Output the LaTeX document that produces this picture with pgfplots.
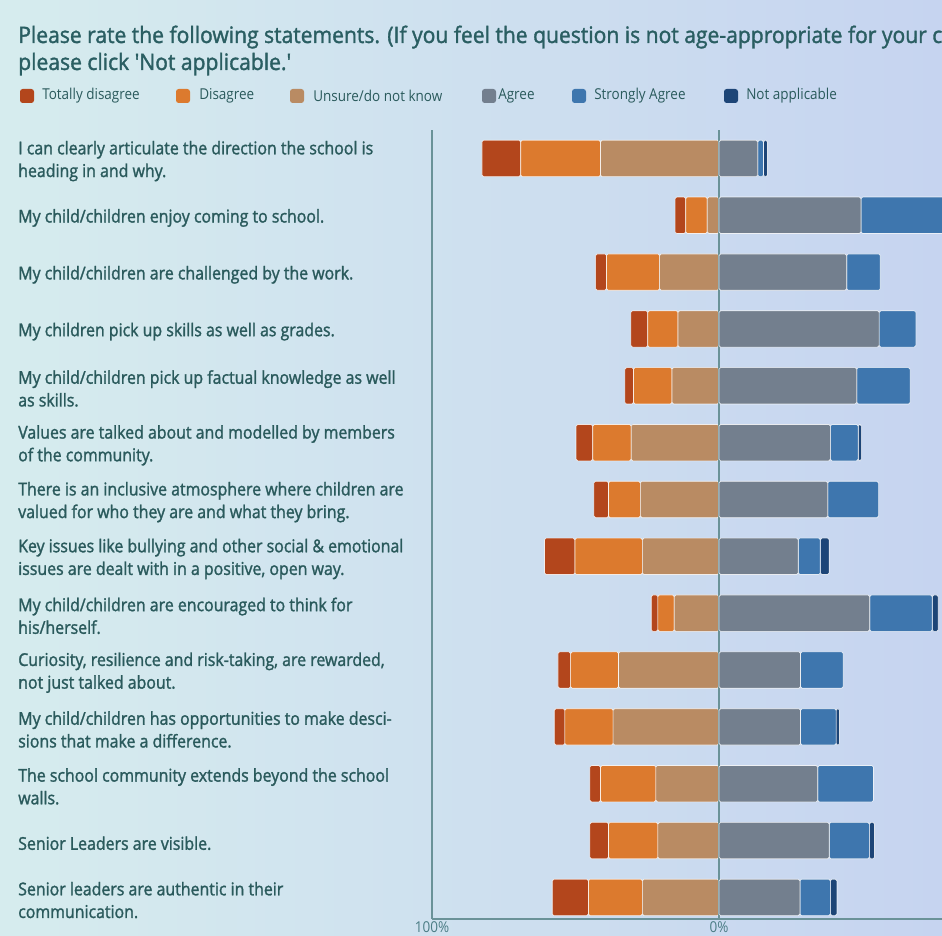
\documentclass[border=0pt]{standalone}
\usepackage{fontspec}
\setmainfont{Open Sans}[FakeStretch=0.9]
\newfontfamily\semib{Open Sans}[FakeStretch=0.9, FakeBold=1.5]
\newfontfamily\ttlf{Open Sans}[FakeStretch=0.93, FakeBold=1.5]
\usepackage{pgfplots}
\usepackage{pgfplotstable}
\pgfplotsset{compat=1.18}

\definecolor{cTD}{HTML}{B3461C}
\definecolor{cD}{HTML}{DC7A2E}
\definecolor{cU}{HTML}{B98B63}
\definecolor{cA}{HTML}{737F8E}
\definecolor{cSA}{HTML}{3E76AE}
\definecolor{cNA}{HTML}{1D4577}
\definecolor{txt}{HTML}{2A5A5C}
\definecolor{ttl}{HTML}{2A5E62}
\definecolor{axc}{HTML}{6A9298}
\definecolor{tickc}{HTML}{4A7C84}
\definecolor{bgL}{HTML}{D6ECEE}
\definecolor{bgR}{HTML}{C6D4F0}

\pgfplotstableread{
row TD D U A SA NA
1 13.5 27.8 41.3 13.5 2.0 1.4
2 3.7 7.5 4.1 49.5 35.2 0
3 3.8 18.5 20.7 44.5 11.7 0
4 5.9 10.5 14.3 55.8 12.8 0
5 3.0 13.4 16.4 48.0 18.6 0
6 5.8 13.4 30.6 38.8 9.7 1.1
7 5.1 11.1 27.4 37.9 17.7 0
8 10.6 23.5 26.7 27.6 7.7 3.1
9 2.3 5.7 15.6 52.5 21.8 2.1
10 4.4 16.7 35.0 28.4 14.9 0
11 3.7 16.8 36.9 28.4 12.4 1.2
12 3.7 19.3 22.0 34.4 19.4 0
13 6.5 17.2 21.3 38.4 14.0 1.8
14 12.6 18.8 26.7 28.2 10.6 2.3
}\data

\pgfplotsset{
  common/.style={
    at={(324pt,12pt)}, anchor=south west,
    scale only axis, width=382.5pt, height=591.75pt,
    xmin=-100, xmax=77.7, ymin=0.5, ymax=14.38, y dir=reverse,
    xbar stacked, bar width=0.64,
  },
  seg/.style={fill=#1, draw=white, line width=0.5pt, draw opacity=0.8, rounded corners=1.2pt},
}

\begin{document}
\begin{tikzpicture}
\useasboundingbox (0,0) rectangle (706.5pt,701.25pt);
\shade[left color=bgL, right color=bgR] (0,0) rectangle (706.5pt,701.25pt);

% title
\node[anchor=base west, inner sep=0pt, text=ttl, font=\ttlf\fontsize{17}{20.25}\selectfont]
  at (13.5pt,669pt) {Please rate the following statements. (If you feel the question is not age-appropriate for your child,};
\node[anchor=base west, inner sep=0pt, text=ttl, font=\ttlf\fontsize{17}{20.25}\selectfont]
  at (13.5pt,648.75pt) {please click 'Not applicable.'};

% legend
\foreach \c/\sx/\tx/\lab in {cTD/20/42/Totally disagree, cD/176/199/Disagree, cU/290/313/Unsure\slash do not know, cA/482/498/Agree, cSA/572/594/Strongly Agree, cNA/724/746/Not applicable}{
  \fill[\c, rounded corners=2pt] (\sx*0.75pt,624pt) rectangle ++(10.5pt,10.5pt);
  \node[anchor=west, inner sep=0pt, text=txt, font=\fontsize{11.25}{12}\selectfont] at (\tx*0.75pt,629.25pt) {\lab};
}

\begin{axis}[common,
  axis x line*=bottom, axis y line*=left,
  axis line style={draw=axc, line width=1.1pt, -},
  xtick={-100,0}, xticklabels={100\%,0\%},
  major tick length=0pt,
  xticklabel style={text=tickc, font=\fontsize{11.25}{12}\selectfont, inner sep=0pt, yshift=-1.5pt},
  ytick={1,...,14},
  yticklabels={
    {I can clearly articulate the direction the school is\\heading in and why.},
    {My child/children enjoy coming to school.},
    {My child/children are challenged by the work.},
    {My children pick up skills as well as grades.},
    {My child/children pick up factual knowledge as well\\as skills.},
    {Values are talked about and modelled by members\\of the community.},
    {There is an inclusive atmosphere where children are\\valued for who they are and what they bring.},
    {Key issues like bullying and other social \& emotional\\issues are dealt with in a positive, open way.},
    {My child/children are encouraged to think for\\his/herself.},
    {Curiosity, resilience and risk-taking, are rewarded,\\not just talked about.},
    {My child/children has opportunities to make desci-\\sions that make a difference.},
    {The school community extends beyond the school\\walls.},
    {Senior Leaders are visible.},
    {Senior leaders are authentic in their\\communication.}
  },
  yticklabel style={anchor=west, align=left, inner sep=0pt, xshift=-310.5pt, yshift=-2pt, text=txt,
    font=\semib\fontsize{13.25}{17}\selectfont},
]
\addplot[seg=cU]  table[x expr=-\thisrow{U},  y=row]{\data};
\addplot[seg=cD]  table[x expr=-\thisrow{D},  y=row]{\data};
\addplot[seg=cTD] table[x expr=-\thisrow{TD}, y=row]{\data};
\end{axis}

\begin{axis}[common, hide axis]
\addplot[seg=cA]  table[x=A,  y=row]{\data};
\addplot[seg=cSA] table[x=SA, y=row]{\data};
\addplot[seg=cNA] table[x=NA, y=row]{\data};
\draw[axc, line width=1.1pt] (axis cs:0,0.5) -- (axis cs:0,14.38);
\end{axis}
\end{tikzpicture}
\end{document}
